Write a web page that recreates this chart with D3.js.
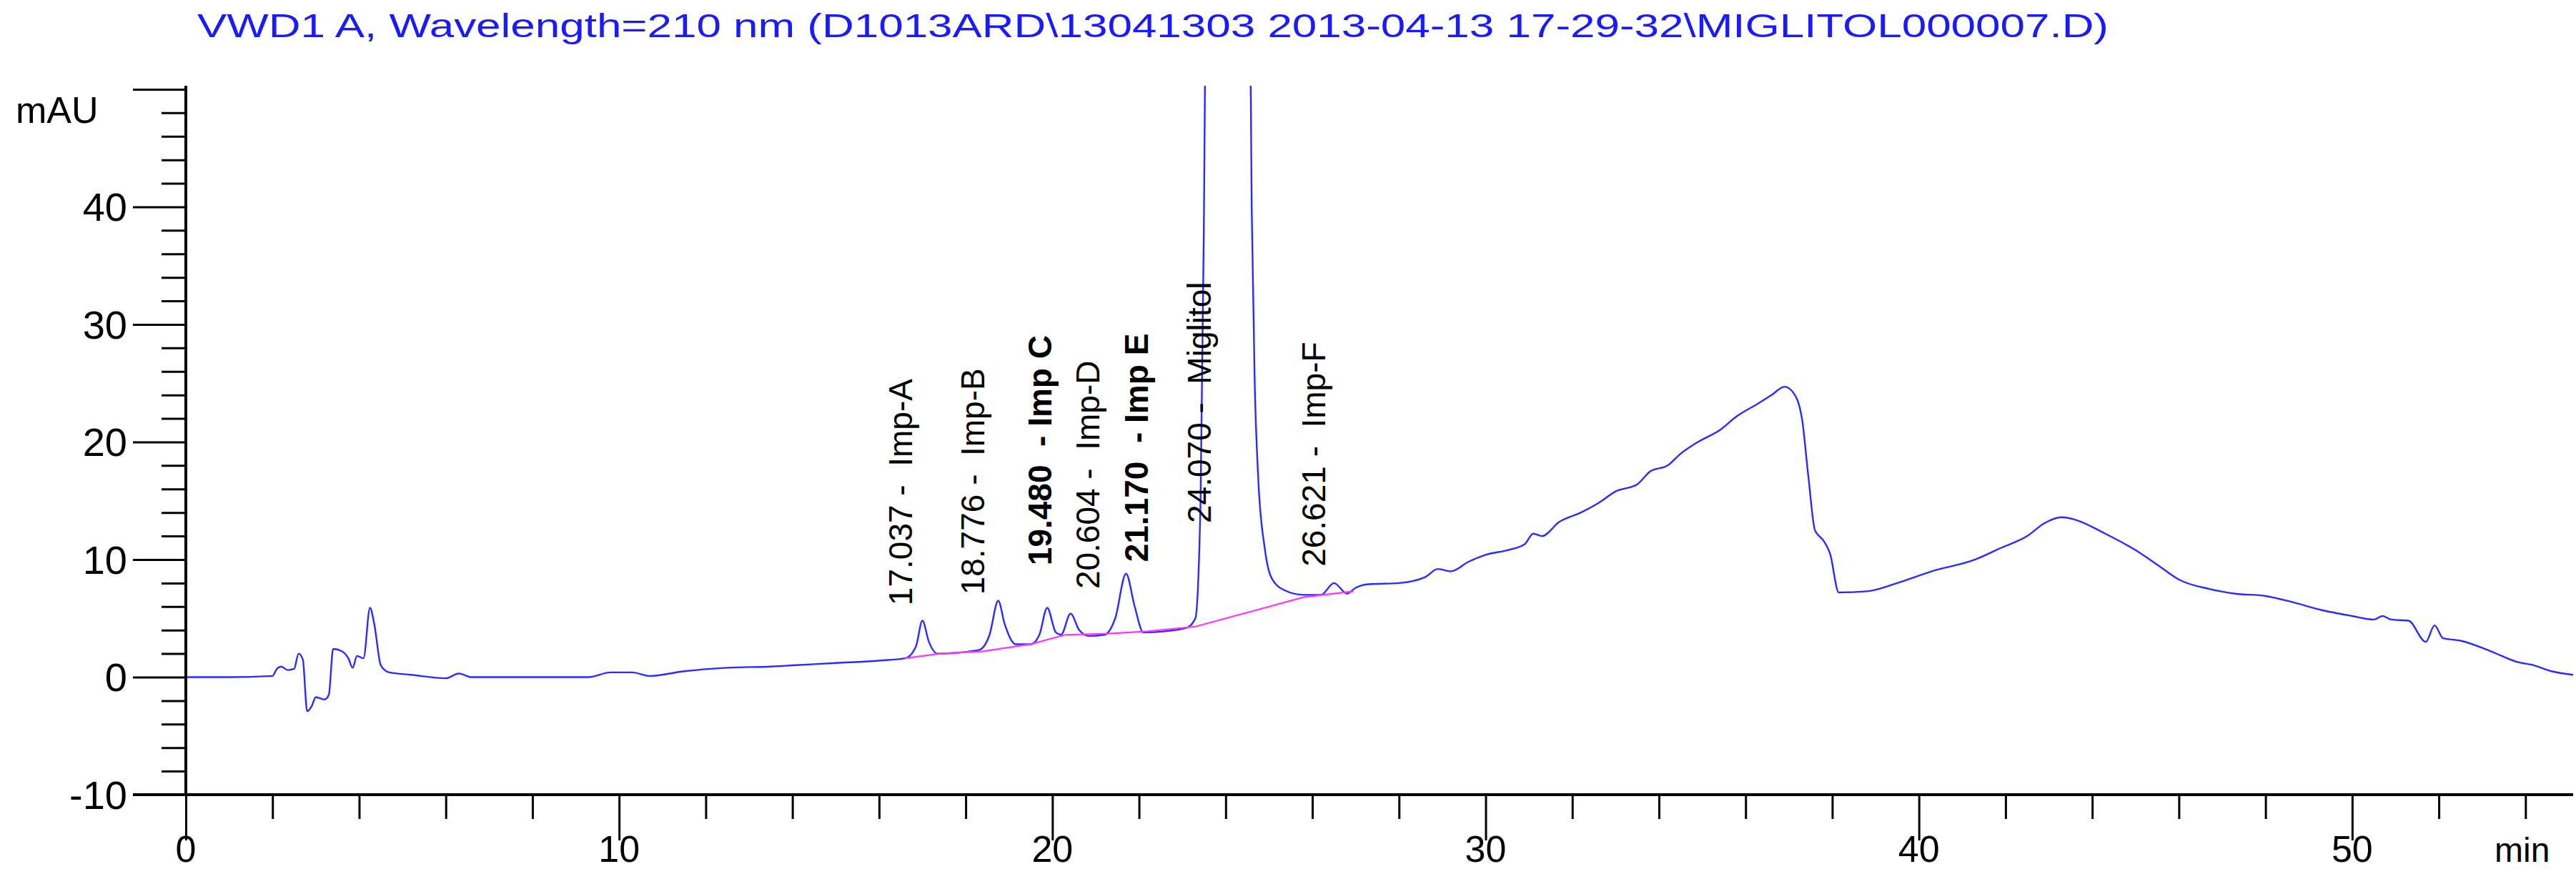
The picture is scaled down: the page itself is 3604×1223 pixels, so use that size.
<!DOCTYPE html>
<html><head><meta charset="utf-8">
<script src="https://cdn.jsdelivr.net/npm/d3@7"></script>
<style>body{margin:0;background:#fff}svg{display:block}</style>
</head><body>
<script>
const titleText = "VWD1 A, Wavelength=210 nm (D1013ARD\\13041303 2013-04-13 17-29-32\\MIGLITOL000007.D)";
const yTicks = [-10,0,10,20,30,40];
const xTicks = [0,10,20,30,40,50];
// chromatogram trace [time(min), mAU]
const trace = [
[0,0],[1,0],[2.0,0.1],[2.1,0.7],[2.2,0.9],[2.35,0.6],[2.5,0.7],[2.6,2.0],[2.7,1.5],[2.8,-2.9],[2.9,-2.5],[3.0,-1.7],[3.2,-1.9],[3.3,-1.5],
[3.4,2.4],[3.6,2.2],[3.75,1.6],[3.85,0.8],[3.95,1.8],[4.1,1.6],[4.25,5.9],[4.35,4.5],[4.5,1.0],[4.7,0.4],[5.2,0.2],[6.0,-0.1],[6.3,0.3],[6.6,0],
[8,0],[9.3,0],[9.8,0.4],[10.3,0.4],[10.7,0.1],[11.5,0.5],[12.5,0.8],[13.5,0.9],[14,1.0],[15,1.2],[16,1.4],[16.6,1.6],[16.85,2.6],[17.0,4.8],[17.15,3.0],[17.35,2.0],
[18.3,2.3],[18.55,3.6],[18.75,6.5],[18.9,4.5],[19.15,2.8],[19.5,2.8],[19.7,3.6],[19.88,5.9],[20.08,3.8],[20.2,3.6],[20.42,5.4],[20.62,4.0],[20.85,3.5],[21.2,3.6],
[21.45,5.0],[21.7,8.8],[21.9,6.0],[22.1,3.8],[22.6,3.9],[23.1,4.2],[23.3,5.0],[23.42,15],[23.5,40],[23.55,60],[24.55,60],[24.6,40],[24.67,25],[24.75,17],
[24.9,11],[25.05,8.5],[25.35,7.4],[25.8,7.0],[26.2,7.0],[26.5,8.0],[26.8,7.1],[27.0,7.6],[27.3,7.9],[28.0,8.0],[28.6,8.5],[28.9,9.2],[29.2,9.0],[29.6,9.8],
[30.0,10.4],[30.5,10.8],[30.9,11.3],[31.1,12.2],[31.3,12.0],[31.7,13.2],[32.2,14.0],[32.6,14.8],[33.0,15.8],[33.5,16.4],[33.8,17.5],[34.2,18.0],[34.5,19.0],
[34.9,20.0],[35.4,21.0],[35.8,22.2],[36.3,23.3],[36.6,24.0],[36.9,24.7],[37.1,24.2],[37.3,22.0],[37.45,17.0],[37.6,12.5],[37.8,11.6],[37.95,10.5],[38.15,7.2],
[38.8,7.3],[39.5,8.0],[40.3,9.0],[41.3,10.0],[41.9,11.0],[42.5,12.0],[42.9,13.1],[43.3,13.6],[43.6,13.4],[44.3,12.2],[45.0,10.8],[45.6,9.3],[46.0,8.3],
[46.7,7.5],[47.3,7.1],[48.0,6.9],[48.6,6.4],[49.3,5.7],[50.0,5.2],[50.5,4.9],[50.7,5.2],[50.9,4.9],[51.3,4.8],[51.7,3.0],[51.9,4.4],[52.1,3.3],[52.5,3.1],
[53.2,2.2],[53.8,1.3],[54.2,1.0],[54.6,0.5],[55.1,0.2]
];
// integration baseline (magenta)
const baseline = [[16.6,1.6],[17.4,2.0],[18.4,2.2],[19.5,2.8],[20.3,3.6],[21.3,3.7],[22.2,3.9],[23.3,4.3],[25.8,6.8],[26.95,7.3]];
// peak annotations
const peakNames = ["17.037 -  Imp-A","18.776 -  Imp-B","19.480  - Imp C","20.604 -  Imp-D","21.170  - Imp E","24.070 -  Miglitol","26.621 -  Imp-F"];
const peakTimes = [16.48,18.14,19.7,20.8,21.93,23.37,26.02];
const peakLabelY = [6.1,7.0,9.5,7.5,9.8,13.1,9.4];
const peakBold = [false,false,true,false,true,false,false];

const W=3604,H=1223;
const svg=d3.select("body").append("svg").attr("width",W).attr("height",H);
const x=d3.scaleLinear().domain([0,55.1]).range([260,3600]);
const y=d3.scaleLinear().domain([-10,50.3]).range([1112,120]);

svg.append("text").attr("x",276).attr("y",52).attr("fill","#1a1aff")
  .attr("font-family","Liberation Sans, Arial").attr("font-size",47)
  .attr("textLength",2674).attr("lengthAdjust","spacingAndGlyphs").text(titleText);

svg.append("defs").append("clipPath").attr("id","c").append("rect")
  .attr("x",x(0)).attr("y",y(50.3)).attr("width",x(55.1)-x(0)).attr("height",y(-10)-y(50.3));

const line=d3.line().x(d=>x(d[0])).y(d=>y(d[1])).curve(d3.curveMonotoneX);
const g=svg.append("g").attr("clip-path","url(#c)");
g.append("path").datum(trace).attr("d",line).attr("fill","none").attr("stroke","#2b2bff").attr("stroke-width",2.4);
g.append("path").datum(baseline).attr("d",d3.line().x(d=>x(d[0])).y(d=>y(d[1]))).attr("fill","none").attr("stroke","#ff33ff").attr("stroke-width",2.2);

// axes
const font="Liberation Sans, Arial";
const yAx=svg.append("g").attr("transform",`translate(${x(0)},0)`)
  .call(d3.axisLeft(y).tickValues(d3.range(-10,51,2)).tickSize(34).tickFormat(""));
yAx.selectAll(".tick line").attr("stroke-width",3).attr("x2",d=>d%10===0?-74:-34);
yAx.select(".domain").attr("stroke-width",4).attr("d",`M0,${y(50.3)}V${y(-10)}`);
yTicks.forEach(v=>svg.append("text").attr("x",x(0)-82).attr("y",y(v)+20).attr("text-anchor","end")
  .attr("font-family",font).attr("font-size",56).text(v));
svg.append("text").attr("x",22).attr("y",172).attr("font-family",font).attr("font-size",52).text("mAU");

const xAx=svg.append("g").attr("transform",`translate(0,${y(-10)})`)
  .call(d3.axisBottom(x).tickValues(d3.range(0,56,2)).tickSize(34).tickFormat(""));
xAx.selectAll(".tick line").attr("stroke-width",3).attr("y2",d=>d%10===0?64:34);
xAx.select(".domain").attr("stroke-width",4).attr("d",`M${x(0)-74},0H${x(55.1)}`);
xTicks.forEach(v=>svg.append("text").attr("x",x(v)).attr("y",1206).attr("text-anchor","middle")
  .attr("font-family",font).attr("font-size",52).text(v));
svg.append("text").attr("x",3490).attr("y",1206).attr("font-family",font).attr("font-size",48).text("min");

// peak labels
peakNames.forEach((n,i)=>{
  const px=x(peakTimes[i])+17, py=y(peakLabelY[i]);
  svg.append("text").attr("transform",`translate(${px},${py}) rotate(-90)`)
    .attr("font-family",font).attr("font-size",46).attr("font-weight",peakBold[i]?"bold":"normal")
    .style("white-space","pre").text(n);
});
</script>
</body></html>
